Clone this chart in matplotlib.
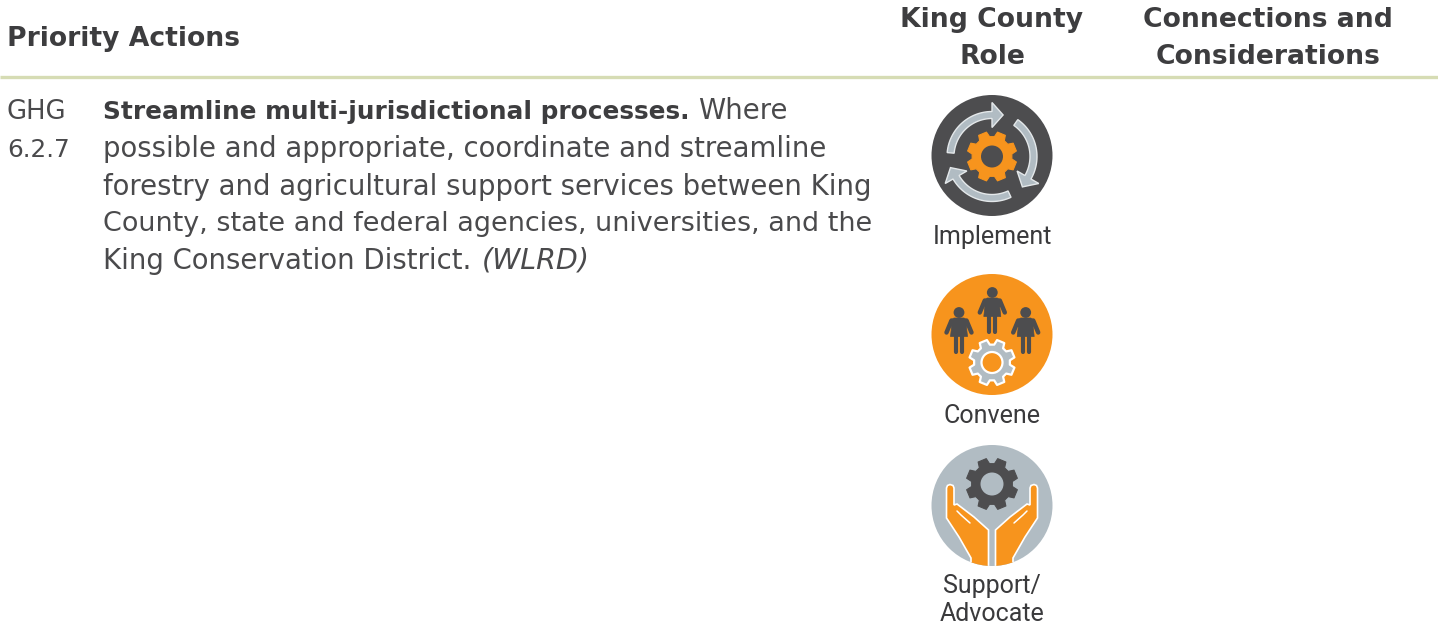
import numpy as np
import matplotlib
matplotlib.use("Agg")
import matplotlib.pyplot as plt
from matplotlib.patches import Circle, Polygon

W, H = 1438, 627

DARK = '#4d4d4f'
ORANGE = '#f7941d'
GREY = '#b1bcc3'
TEXT = '#4a4a4c'
HEAD = '#3d3d3f'
RULE = '#d6dcb4'

BODY_FONT = 'DejaVu Sans'
LABEL_FONT = ['Liberation Sans Narrow', 'Roboto']

# header texts: label, x, baseline, alignment
header_labels = ['Priority Actions', 'King County', 'Role', 'Connections and', 'Considerations']
header_x = [7, 992, 992, 1268, 1268]
header_y = [46, 27, 64, 27, 64]
header_ha = ['left', 'center', 'center', 'center', 'center']

action_id = ['GHG', '6.2.7']
action_id_y = [119, 157]
action_id_size = [18.6, 17.8]
action_title = 'Streamline multi-jurisdictional processes.'
action_lines = ['Where',
                'possible and appropriate, coordinate and streamline',
                'forestry and agricultural support services between King',
                'County, state and federal agencies, universities, and the',
                'King Conservation District.']
action_y = [119, 157, 195, 231, 269]
action_size = [19.8, 19.8, 19.85, 19.45, 19.8]
action_ref = '(WLRD)'

role_labels = ['Implement', 'Convene', 'Support/', 'Advocate']
role_y = [244, 423, 593, 621]

fig = plt.figure(figsize=(W / 100, H / 100), dpi=100, facecolor='white')
ax = fig.add_axes([0, 0, 1, 1])
ax.set_xlim(0, W)
ax.set_ylim(H, 0)
ax.axis('off')


def add_gear(cx, cy, r_out, r_root, r_hole, colour, hole_colour, edge=None):
    # 8 teeth, each tooth is a little trapezoid on the root circle
    angles = []
    radii = []
    for i in range(8):
        a = i * np.pi / 4 + np.pi / 8
        for da, r in [(-0.27, r_root), (-0.17, r_out), (0.17, r_out), (0.27, r_root)]:
            angles.append(a + da)
            radii.append(r)
    pts = np.column_stack([cx + np.array(radii) * np.cos(angles),
                           cy + np.array(radii) * np.sin(angles)])
    ax.add_patch(Polygon(pts, closed=True, fc=colour, ec=edge if edge else colour,
                         lw=1.6 if edge else 0.8, joinstyle='round', zorder=3))
    ax.add_patch(Circle((cx, cy), r_hole, fc=hole_colour, ec=edge if edge else 'none',
                        lw=1.6 if edge else 0, zorder=4))


def add_arrow(cx, cy, start, end, tip, clr):
    # curved arrow going clockwise, angles in degrees
    t = np.radians(np.linspace(start, end, 30))
    r1, r2 = 45, 38
    outer = np.column_stack([cx + r1 * np.cos(t), cy - r1 * np.sin(t)])
    inner = np.column_stack([cx + r2 * np.cos(t[::-1]), cy - r2 * np.sin(t[::-1])])
    e = np.radians(end)
    ti = np.radians(tip)
    head = [(cx + 54 * np.cos(e), cy - 54 * np.sin(e)),
            (cx + 43 * np.cos(ti), cy - 43 * np.sin(ti)),
            (cx + 29 * np.cos(e), cy - 29 * np.sin(e))]
    pts = np.vstack([outer, head, inner])
    ax.add_patch(Polygon(pts, closed=True, fc=clr, ec='#e4e8ea', lw=1.0, zorder=3))


def add_person(hx, hy):
    ax.add_patch(Circle((hx, hy), 5.4, fc=DARK, ec='none', zorder=3))
    body = [(-5, 5.5), (5, 5.5), (9, 8), (7.5, 15), (8.5, 24), (-8.5, 24), (-7.5, 15), (-9, 8)]
    ax.add_patch(Polygon(np.array(body) + [hx, hy], closed=True, fc=DARK, ec=DARK, lw=0.5, zorder=3))
    for s in (-1, 1):
        ax.plot([hx + s * 7.5, hx + s * 12.5], [hy + 8, hy + 20], color=DARK, lw=3.2,
                solid_capstyle='round', zorder=3)
        ax.plot([hx + s * 2.9, hx + s * 2.9], [hy + 22, hy + 39.5], color=DARK, lw=3.0,
                solid_capstyle='round', zorder=3)


def add_hand(cx, circle):
    # left hand outline in pixels from centre line, mirrored for the right one
    hand = [(-45.5, 488), (-44.5, 485.5), (-42, 484.5), (-39, 485.5), (-38, 488), (-38, 505),
            (-35, 504), (-18, 517), (-3.5, 530), (-3.5, 568), (-21, 568),
            (-21, 558), (-33, 537), (-45.5, 518)]
    hand = np.array(hand, dtype=float)
    for s in (1, -1):
        pts = np.column_stack([cx + s * hand[:, 0], hand[:, 1]])
        p = Polygon(pts, closed=True, fc=ORANGE, ec='white', lw=1.2, zorder=3)
        ax.add_patch(p)
        p.set_clip_path(circle)
        ax.plot([cx + s * -35, cx + s * -31, cx + s * -22], [511, 515, 523], color='white',
                lw=1.1, solid_capstyle='round', zorder=4)


# header and rule
for label, x, y, ha in zip(header_labels, header_x, header_y, header_ha):
    ax.text(x, y, label, family=BODY_FONT, fontsize=19.2, fontweight='bold', color=HEAD,
            ha=ha, va='baseline')
ax.plot([0, W], [77, 77], color=RULE, lw=2.4, solid_capstyle='butt')

# action text
for label, y, size in zip(action_id, action_id_y, action_id_size):
    ax.text(7, y, label, family=BODY_FONT, fontsize=size, color=TEXT, va='baseline')
ax.text(103, action_y[0], action_title, family=BODY_FONT, fontsize=17.8, fontweight='bold',
        color=HEAD, va='baseline')
ax.text(698, action_y[0], action_lines[0], family=BODY_FONT, fontsize=action_size[0], color=TEXT, va='baseline')
for label, y, size in zip(action_lines[1:], action_y[1:], action_size[1:]):
    ax.text(103, y, label, family=BODY_FONT, fontsize=size, color=TEXT, va='baseline')
ax.text(482, action_y[4], action_ref, family=BODY_FONT, fontsize=20.5, style='italic',
        color=TEXT, va='baseline')

# role icons
CX = 992
c1 = Circle((CX, 155.5), 60.5, fc=DARK, ec='none', zorder=2)
ax.add_patch(c1)
add_gear(CX, 156.5, 25, 20, 11, ORANGE, DARK)
for start, end, tip in [(175, 90, 75), (55, -30, -45), (-65, -150, -165)]:
    add_arrow(CX, 156.5, start, end, tip, GREY)

c2 = Circle((CX, 334.5), 60.5, fc=ORANGE, ec='none', zorder=2)
ax.add_patch(c2)
for hx, hy in [(959, 312.5), (992.3, 292.5), (1025.7, 312.5)]:
    add_person(hx, hy)
add_gear(CX, 362.5, 23, 18, 10.5, GREY, ORANGE, edge='white')

c3 = Circle((CX, 505.5), 60.5, fc=GREY, ec='none', zorder=2)
ax.add_patch(c3)
add_gear(CX, 484, 26, 20.5, 11.5, DARK, GREY)
add_hand(CX, c3)

for label, y in zip(role_labels, role_y):
    ax.text(CX, y, label, family=LABEL_FONT, fontsize=18, color='#3a3a3c', ha='center', va='baseline')

fig.savefig('out.png', dpi=100, facecolor='white')
